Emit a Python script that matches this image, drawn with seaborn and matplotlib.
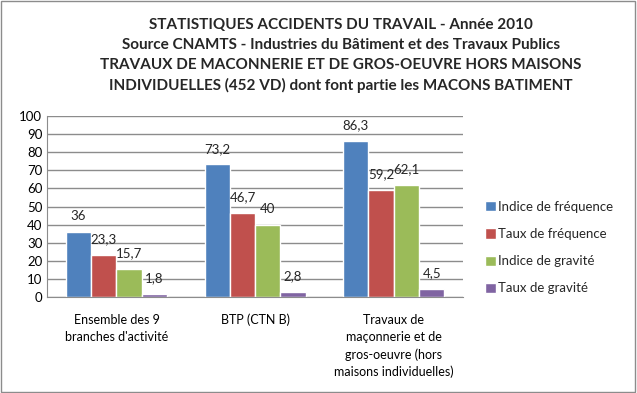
import matplotlib
matplotlib.use("Agg")
import matplotlib.pyplot as plt
import seaborn as sns
import pandas as pd
from matplotlib.patches import Rectangle

categories = [
    "Ensemble des 9\nbranches d'activité",
    "BTP (CTN B)",
    "Travaux de\nmaçonnerie et de\ngros-oeuvre (hors\nmaisons individuelles)",
]
series = ["Indice de fréquence", "Taux de fréquence", "Indice de gravité", "Taux de gravité"]
indice_frequence = [36, 73.2, 86.3]
taux_frequence = [23.3, 46.7, 59.2]
indice_gravite = [15.7, 40, 62.1]
taux_gravite = [1.8, 2.8, 4.5]
colors = ["#4F81BD", "#C0504D", "#9BBB59", "#8064A2"]

title = ("STATISTIQUES ACCIDENTS DU TRAVAIL - Année 2010\n"
         "Source CNAMTS - Industries du Bâtiment et des Travaux Publics\n"
         "TRAVAUX DE MACONNERIE ET DE GROS-OEUVRE HORS MAISONS\n"
         "INDIVIDUELLES (452 VD) dont font partie les MACONS BATIMENT")

rows = []
for name, vals in zip(series, [indice_frequence, taux_frequence, indice_gravite, taux_gravite]):
    for cat, v in zip(categories, vals):
        rows.append({"cat": cat, "serie": name, "val": v})
df = pd.DataFrame(rows)

sns.set_style("white")
plt.rcParams["font.family"] = ["Lato", "DejaVu Sans"]

fig = plt.figure(figsize=(6.37, 3.93), dpi=100)
ax = fig.add_axes([0.074, 0.244, 0.653, 0.461])
sns.barplot(data=df, x="cat", y="val", hue="serie", palette=colors,
            width=0.73, gap=0, saturation=1, ax=ax, legend=True)

ax.set_ylim(0, 100)
ax.set_yticks(range(0, 101, 10))
ax.set_xlabel("")
ax.set_ylabel("")
ax.yaxis.grid(True, color="#8c8c8c", linewidth=1)
ax.set_axisbelow(True)
for s in ["top", "right"]:
    ax.spines[s].set_visible(False)
for s in ["left", "bottom"]:
    ax.spines[s].set_color("#8c8c8c")
ax.tick_params(axis="both", length=0, labelsize=9.5, colors="black")
ax.tick_params(axis="x", pad=12)
for t in ax.get_xticklabels():
    t.set_linespacing(1.5)
    t.set_fontsize(9)

for cont in ax.containers:
    labels = [f"{b.get_height():g}".replace(".", ",") for b in cont]
    ax.bar_label(cont, labels=labels, padding=7, fontsize=9.5)

ax.legend(loc="center left", bbox_to_anchor=(1.04, 0.273), frameon=False,
          fontsize=9.5, handlelength=0.8, handleheight=0.8, handletextpad=0.2,
          labelspacing=1.15, borderaxespad=0)

fig.text(0.535, 0.955, title, ha="center", va="top", fontsize=11,
         fontweight="bold", linespacing=1.55)

fig.patches.append(Rectangle((0.002, 0.003), 0.995, 0.994, transform=fig.transFigure,
                             fill=False, edgecolor="#8c8c8c", linewidth=1))

fig.savefig("out.png", dpi=100)
